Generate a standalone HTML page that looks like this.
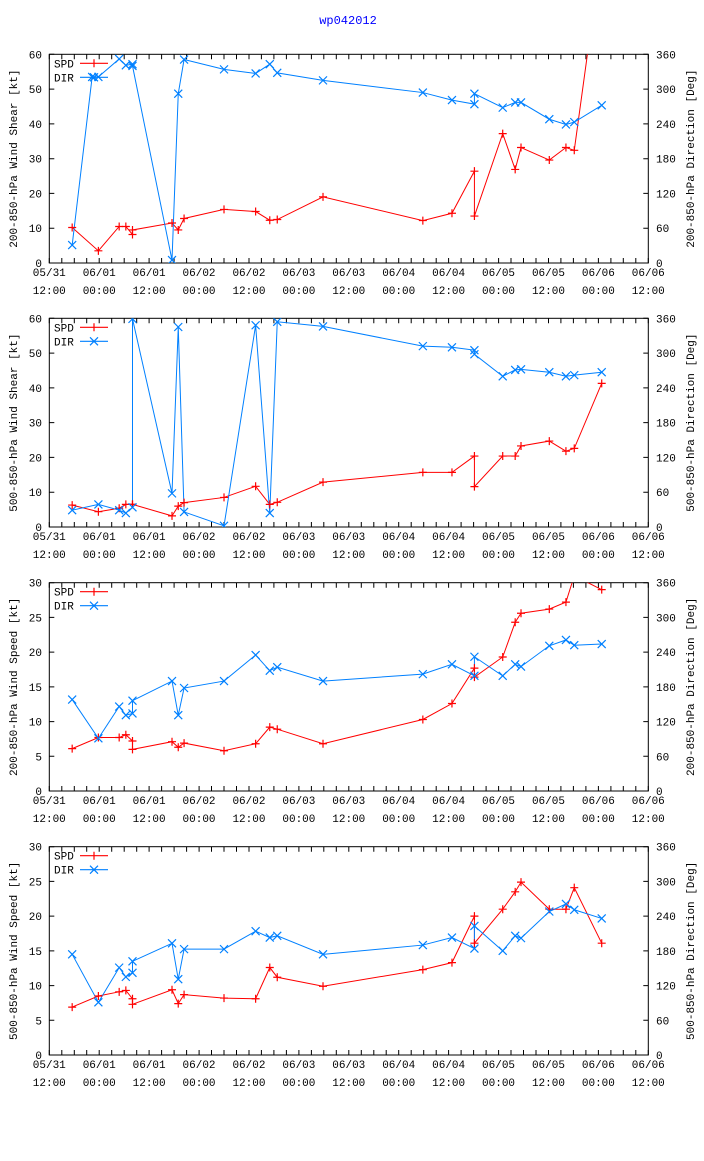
<!DOCTYPE html>
<html><head><meta charset="utf-8"><style>
html,body{margin:0;padding:0;background:#fff}
svg text{font-family:"Liberation Mono","DejaVu Sans Mono",monospace;font-size:11px;fill:#000}
</style></head><body>
<svg id="chart" xmlns="http://www.w3.org/2000/svg" width="704" height="1156" viewBox="0 0 704 1156">
<rect x="0" y="0" width="704" height="1156" fill="#fff"/>
<text x="348" y="24" text-anchor="middle" style="fill:#0000ff;font-size:12px">wp042012</text>
</svg>
<script>
const times = [5.5,11.8,16.8,18.4,20,20,29.5,31,32.4,42,49.6,53,54.8,65.8,89.8,96.8,102.2,102.2,109,112,113.4,120.2,124.2,126.2,132.8];
const timesDir1 = [5.5,10.3,11.8,16.8,18.4,20,20,29.5,31,32.4,42,49.6,53,54.8,65.8,89.8,96.8,102.2,102.2,109,112,113.4,120.2,124.2,126.2,132.8];
const spd1 = [10.2,3.5,10.5,10.5,8.2,9.5,11.5,9.5,12.8,15.4,14.8,12.3,12.5,19,12.2,14.3,26.4,13.5,37.2,26.9,33.2,29.6,33.2,32.4,90];
const dir1 = [31,321,321,352,341,343,340,5,292,351,334,327,343,328,315,294,281,274,292,268,277,277,248,239,243,272];
const spd2 = [6.3,4.4,5.4,6.5,6.5,6.5,3.2,6,7,8.5,11.7,6.5,7.1,12.9,15.7,15.7,20.4,11.6,20.4,20.4,23.3,24.7,21.8,22.6,41.3];
const dir2 = [29,39,29,24,34,359,58,345,26,2,348,24,354,346,312,310,305,298,260,271,272,267,260,262,267];
const spd3 = [6.1,7.7,7.7,8.1,7.2,6.0,7.1,6.3,6.9,5.8,6.8,9.2,8.9,6.8,10.3,12.6,17.7,16.4,19.3,24.3,25.6,26.2,27.2,31,29.0];
const dir3 = [158,91,146,131,134,156,190,131,178,190,235,208,214,190,202,219,199,232,199,219,215,251,261,252,254];
const spd4 = [6.9,8.5,9.1,9.3,8.1,7.3,9.4,7.4,8.7,8.2,8.1,12.6,11.2,9.9,12.3,13.3,20.0,16.1,21.0,23.5,24.9,21.0,21.0,24.1,16.1];
const dir4 = [174,91,151,135,142,162,193,131,183,183,214,203,206,174,190,203,184,223,180,206,202,248,261,251,236];
const xDates = ["05/31","06/01","06/01","06/02","06/02","06/03","06/03","06/04","06/04","06/05","06/05","06/06","06/06"];
const xTimes = ["12:00","00:00","12:00","00:00","12:00","00:00","12:00","00:00","12:00","00:00","12:00","00:00","12:00"];
const dirTicks = [0,60,120,180,240,300,360];
const leftTitles = ["200-850-hPa Wind Shear [kt]","500-850-hPa Wind Shear [kt]","200-850-hPa Wind Speed [kt]","500-850-hPa Wind Speed [kt]"];
const rightTitles = ["200-850-hPa Direction [Deg]","500-850-hPa Direction [Deg]","200-850-hPa Direction [Deg]","500-850-hPa Direction [Deg]"];

const NS="http://www.w3.org/2000/svg";
const svg=document.getElementById('chart');
const XL=49.3, XR=648.3, HMAX=144;
const RED="#ff0000", BLUE="#0080ff";
function mk(tag,attrs,parent){const e=document.createElementNS(NS,tag);for(const k in attrs)e.setAttribute(k,attrs[k]);(parent||svg).appendChild(e);return e;}
function xs(h){return XL+(h/HMAX)*(XR-XL);}

const panels=[
 {top:54.3,bot:263,ymax:60,ystep:10,spd:spd1,dir:dir1,ts:times,td:timesDir1},
 {top:318.3,bot:527,ymax:60,ystep:10,spd:spd2,dir:dir2,ts:times,td:times},
 {top:582.7,bot:791,ymax:30,ystep:5,spd:spd3,dir:dir3,ts:times,td:times},
 {top:846.7,bot:1055,ymax:30,ystep:5,spd:spd4,dir:dir4,ts:times,td:times}
];

panels.forEach((p,i)=>{
 const g=mk('g',{});
 
 
 const ys=v=>p.bot-(v/p.ymax)*(p.bot-p.top);
 const yd=v=>p.bot-(v/360)*(p.bot-p.top);
 const cid='clip'+i;
 const cp=mk('clipPath',{id:cid},g);
 mk('rect',{x:XL,y:p.top,width:XR-XL,height:p.bot-p.top},cp);
 // ticks
 let d='';
 for(let h=0;h<=HMAX;h+=3){const x=xs(h).toFixed(1);d+=`M${x} ${p.bot}v-5M${x} ${p.top}v5`;}
 for(let v=0;v<=p.ymax;v+=p.ystep){const y=ys(v).toFixed(1);d+=`M${XL} ${y}h5`;}
 dirTicks.forEach(v=>{const y=yd(v).toFixed(1);d+=`M${XR} ${y}h-5`;});
 const tk=mk('path',{d:d,stroke:'#000','stroke-width':1,fill:'none'},g);
 
 
 const fr=mk('rect',{x:XL,y:p.top,width:XR-XL,height:p.bot-p.top,fill:'none',stroke:'#000','stroke-width':1},g);
 
 
 // y labels
 for(let v=0;v<=p.ymax;v+=p.ystep){
  const t=mk('text',{x:42,y:ys(v)+4,'text-anchor':'end'},g);t.textContent=v;
  
  
 }
 dirTicks.forEach(v=>{
  const t=mk('text',{x:656,y:yd(v)+4,'text-anchor':'start'},g);t.textContent=v;
  
  
 });
 xDates.forEach((s,k)=>{
  const x=xs(k*12);
  const a=mk('text',{x:x,y:p.bot+13,'text-anchor':'middle'},g);a.textContent=s;
  
  
  const b=mk('text',{x:x,y:p.bot+31,'text-anchor':'middle'},g);b.textContent=xTimes[k];
  
  
 });
 const cy=(p.top+p.bot)/2;
 const lt=mk('text',{x:0,y:0,'text-anchor':'middle',transform:`translate(17 ${cy}) rotate(-90)`},g);lt.textContent=leftTitles[i];
 
 
 const rt=mk('text',{x:0,y:0,'text-anchor':'middle',transform:`translate(694 ${cy}) rotate(-90)`},g);rt.textContent=rightTitles[i];
 
 
 // series
 const cg=mk('g',{'clip-path':`url(#${cid})`},g);
 const spts=p.spd.map((v,k)=>[xs(p.ts[k]),ys(v)]);
 const dpts=p.dir.map((v,k)=>[xs(p.td[k]),yd(v)]);
 const sl=mk('polyline',{points:spts.map(q=>q.join(',')).join(' '),fill:'none',stroke:RED,'stroke-width':1},cg);
 
 
 const dl=mk('polyline',{points:dpts.map(q=>q.join(',')).join(' '),fill:'none',stroke:BLUE,'stroke-width':1},cg);
 
 
 spts.forEach(q=>{
  const m=mk('path',{d:`M${q[0]-4} ${q[1]}h8M${q[0]} ${q[1]-4}v8`,stroke:RED,'stroke-width':1.2,fill:'none'},cg);
  
  
 });
 dpts.forEach(q=>{
  const m=mk('path',{d:`M${q[0]-4} ${q[1]-4}l8 8M${q[0]-4} ${q[1]+4}l8 -8`,stroke:BLUE,'stroke-width':1.2,fill:'none'},cg);
  
  
 });
 // legend
 const lg=mk('g',{},g);
 
 
 const ly=p.top+9;
 const t1=mk('text',{x:54,y:ly+4},lg);t1.textContent='SPD';
 
 
 mk('path',{d:`M80 ${ly}h28M94 ${ly-4}v8`,stroke:RED,'stroke-width':1.2,fill:'none'},lg);
 const t2=mk('text',{x:54,y:ly+18},lg);t2.textContent='DIR';
 
 
 mk('path',{d:`M80 ${ly+14}h28M90 ${ly+10}l8 8M90 ${ly+18}l8 -8`,stroke:BLUE,'stroke-width':1.2,fill:'none'},lg);
});
</script>
</body></html>
